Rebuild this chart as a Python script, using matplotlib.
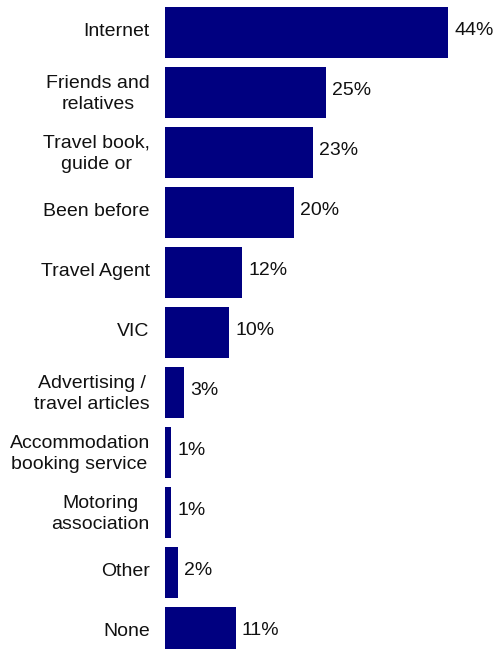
import matplotlib.pyplot as plt
import matplotlib.transforms as mtransforms

# information sources used when planning the trip (% of respondents)
sources = ['Internet', 'Friends and\nrelatives', 'Travel book,\nguide or',
           'Been before', 'Travel Agent', 'VIC', 'Advertising /\ntravel articles',
           'Accommodation\nbooking service', 'Motoring\nassociation', 'Other', 'None']
pct = [44, 25, 23, 20, 12, 10, 3, 1, 1, 2, 11]

plt.rcParams['font.family'] = ['Liberation Sans', 'DejaVu Sans']

fig = plt.figure(figsize=(4.95, 6.49), dpi=100)
ax = fig.add_axes([165 / 495, 0, 330 / 495, 1])

ypos = list(range(len(sources)))
bars = ax.barh(ypos, pct, height=0.85, color='#000080')

for y, v in zip(ypos, pct):
    ax.annotate('%d%%' % v, xy=(v, y), xytext=(4.5, 1.5), textcoords='offset points',
                ha='left', va='center', fontsize=14, color='#111111')

ax.set_xlim(0, 330 / 6.43)
ax.set_ylim((649 - 32.5) / 60, -32.5 / 60)

ax.set_yticks(ypos)
ax.set_yticklabels(sources, fontsize=14, multialignment='center', color='#111111',
                   linespacing=1.35)
ax.tick_params(axis='y', length=0, pad=11)
ax.set_xticks([])
for s in ax.spines.values():
    s.set_visible(False)

# nudge category labels up a little
shift = mtransforms.ScaledTranslation(0, 0.03, fig.dpi_scale_trans)
for lab in ax.get_yticklabels():
    lab.set_transform(lab.get_transform() + shift)

plt.savefig('out.png', dpi=100)
